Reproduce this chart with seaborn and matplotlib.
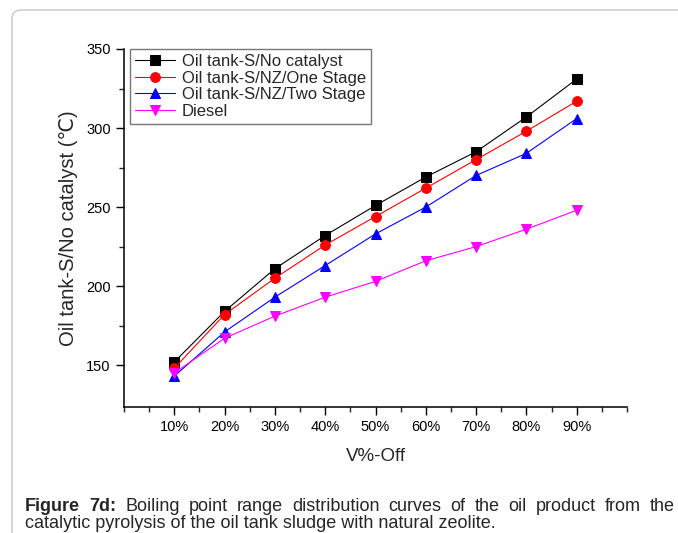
import matplotlib
matplotlib.use("Agg")
import matplotlib.pyplot as plt
import seaborn as sns
import pandas as pd
from matplotlib.patches import FancyBboxPatch
from matplotlib.ticker import FixedLocator

# --- data ---
v_off = [10, 20, 30, 40, 50, 60, 70, 80, 90]
no_catalyst = [152, 184, 211, 232, 251, 269, 285, 307, 331]
nz_one_stage = [148, 182, 205, 226, 244, 262, 280, 298, 317]
nz_two_stage = [143, 171, 193, 213, 233, 250, 270, 284, 306]
diesel = [145, 167, 181, 193, 203, 216, 225, 236, 248]

series = [
    ("Oil tank-S/No catalyst", no_catalyst, "black", "s"),
    ("Oil tank-S/NZ/One Stage", nz_one_stage, "red", "o"),
    ("Oil tank-S/NZ/Two Stage", nz_two_stage, "blue", "^"),
    ("Diesel", diesel, "magenta", "v"),
]

sns.set_style("ticks")
plt.rcParams['font.family'] = ['Liberation Sans', 'DejaVu Sans']

W, H = 678, 533
fig = plt.figure(figsize=(W / 100, H / 100), dpi=100)
fig.patch.set_facecolor("white")

# rounded frame around the figure panel
frame = FancyBboxPatch((12 / W, -0.2), 1.2, 1 - 10 / H + 0.2,
                       boxstyle="round,pad=0,rounding_size=0.015",
                       transform=fig.transFigure, facecolor="none",
                       edgecolor="#c8c8c8", linewidth=1.0, clip_on=False)
fig.patches.append(frame)

ax = fig.add_axes([124 / W, 1 - 407 / H, (627 - 124) / W, (407 - 49) / H])
ax.set_facecolor("white")

for name, vals, col, mk in series:
    df = pd.DataFrame({"x": v_off, "y": vals})
    sns.lineplot(data=df, x="x", y="y", ax=ax, color=col, marker=mk,
                 markersize=7, markeredgecolor=col, linewidth=0.8, label=name)

ax.set_xlim(0, 100)
ax.set_ylim(123.5, 350)
ax.set_xticks(v_off)
ax.set_xticklabels([f"{v}%" for v in v_off])
ax.xaxis.set_minor_locator(FixedLocator([0, 5, 15, 25, 35, 45, 55, 65, 75, 85, 95, 100]))
ax.yaxis.set_major_locator(FixedLocator([150, 200, 250, 300, 350]))
ax.yaxis.set_minor_locator(FixedLocator([175, 225, 275, 325]))

ax.tick_params(which="major", direction="out", length=6, width=1, labelsize=10.5, colors="black")
ax.tick_params(which="minor", direction="out", length=3.5, width=1)
for s in ["top", "right"]:
    ax.spines[s].set_visible(False)
for s in ["left", "bottom"]:
    ax.spines[s].set_linewidth(1.1)
    ax.spines[s].set_color("black")

ax.set_xlabel("V%-Off", fontsize=13.5, labelpad=10)
ax.set_ylabel("Oil tank-S/No catalyst (℃)", fontsize=14.5, labelpad=6)

leg = ax.legend(loc="upper left", bbox_to_anchor=(0.012, 1.0), fontsize=12,
                frameon=True, fancybox=False, edgecolor="#555555",
                handlelength=2.4, handletextpad=0.4, borderpad=0.3,
                labelspacing=0.1, borderaxespad=0)
leg.get_frame().set_linewidth(1.0)

# caption, line 1 justified word by word
fig.canvas.draw()
renderer = fig.canvas.get_renderer()
words = [("Figure", "bold"), ("7d:", "bold")] + [(w, "normal") for w in
         "Boiling point range distribution curves of the oil product from the".split()]
cap_fs = 13
cap_family = ['Liberation Sans Narrow', 'Liberation Sans', 'DejaVu Sans']
texts = [fig.text(0, 0, w, fontsize=cap_fs, fontweight=fw, family=cap_family) for w, fw in words]
widths = [t.get_window_extent(renderer).width for t in texts]
x0, x1 = 25, 675
gap = (x1 - x0 - sum(widths)) / (len(words) - 1)
x = x0
for t, wd in zip(texts, widths):
    t.set_position((x / W, 1 - 511 / H))
    x += wd + gap
fig.text(25 / W, 1 - 528 / H,
         "catalytic pyrolysis of the oil tank sludge with natural zeolite.",
         fontsize=cap_fs, family=cap_family)

fig.savefig("out.png", dpi=100)
